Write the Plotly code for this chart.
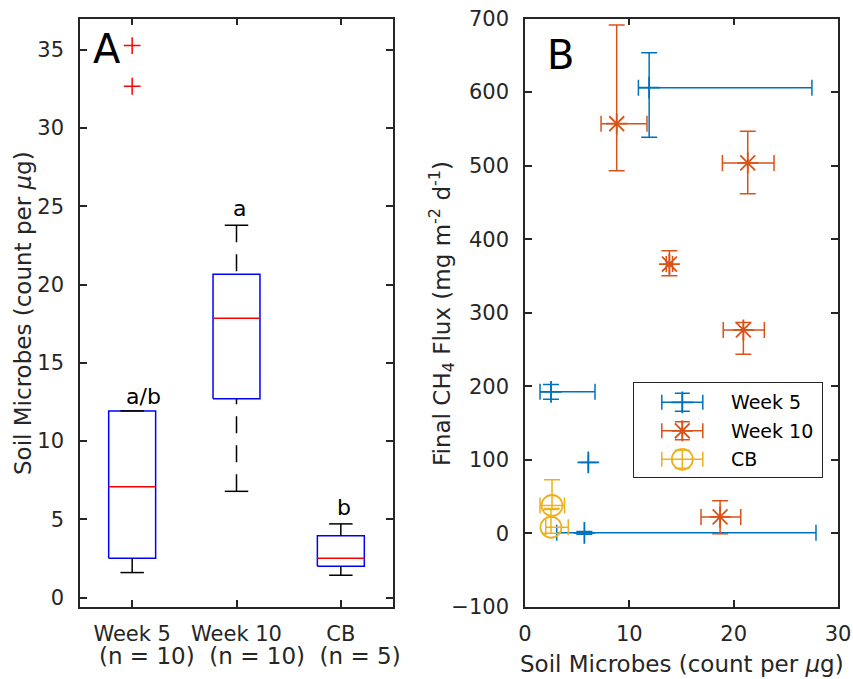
import plotly.graph_objects as go

FONT = "DejaVu Sans, Liberation Sans, Arial, sans-serif"
INK = "#262626"

# ---------------- Panel A: soil microbe counts per treatment ----------------
groups = ["Week 5", "Week 10", "CB"]
group_n = [10, 10, 5]
q1 = [2.51, 12.70, 2.00]
medians = [7.09, 17.85, 2.51]
q3 = [11.93, 20.66, 3.96]
whisker_lo = [1.60, 6.79, 1.43]
whisker_hi = [11.93, 23.79, 4.71]
outlier_group = [1, 1]
outlier_vals = [35.27, 32.67]
sig_labels = ["a/b", "a", "b"]
sig_x = [1.11, 2.03, 3.03]
sig_y = [12.85, 24.85, 5.75]

# ---------------- Panel B: final CH4 flux vs soil microbes ----------------
wk5_x = [11.90, 2.49, 6.07, 5.69]
wk5_y = [606.0, 192.5, 96.6, 0.8]
wk5_xneg = [1.03, 1.05, 0.0, 2.65]
wk5_xpos = [15.60, 4.22, 0.0, 22.20]
wk5_yneg = [67.5, 10.0, 0.0, 2.0]
wk5_ypos = [47.5, 10.0, 0.0, 2.0]

wk10_x = [8.79, 21.35, 13.84, 20.93, 18.70]
wk10_y = [557.0, 503.7, 366.2, 276.7, 22.5]
wk10_xneg = [1.50, 2.43, 0.30, 1.93, 1.83]
wk10_xpos = [2.90, 2.52, 0.30, 2.01, 1.98]
wk10_yneg = [64.0, 42.0, 16.0, 33.0, 23.0]
wk10_ypos = [134.0, 43.0, 18.0, 10.0, 22.0]

cb_x = [2.59, 2.49]
cb_y = [38.0, 8.4]
cb_xneg = [1.15, 0.50]
cb_xpos = [1.20, 1.66]
cb_yneg = [4.0, 8.0]
cb_ypos = [35.0, 24.0]

series_names = ["Week 5", "Week 10", "CB"]
series_colors = ["#0072BD", "#D95319", "#EDB120"]
series_symbols = ["cross-thin", "asterisk", "circle-open"]
series_sizes = [15.5, 17.5, 21]

W, H = 853, 679
BOX_W = 0.45
CAP_W = BOX_W / 2


def px_x(p):
    return p / W


def px_y(p):
    return 1 - p / H


fig = go.Figure()

# --- boxes, whiskers, caps, medians ---
pos = [i + 1 for i in range(len(groups))]
bx, by, wx, wy, cx, cy, mx, my = [], [], [], [], [], [], [], []
for p, a, m, b, lo, hi in zip(pos, q1, medians, q3, whisker_lo, whisker_hi):
    l, r = p - BOX_W / 2, p + BOX_W / 2
    bx += [l, r, r, l, l, None]
    by += [a, a, b, b, a, None]
    wx += [p, p, None, p, p, None]
    wy += [hi, b, None, lo, a, None]
    cx += [p - CAP_W / 2, p + CAP_W / 2, None, p - CAP_W / 2, p + CAP_W / 2, None]
    cy += [hi, hi, None, lo, lo, None]
    mx += [l, r, None]
    my += [m, m, None]

fig.add_trace(go.Scatter(x=bx, y=by, mode="lines", line=dict(color="#0000FF", width=1.5),
                         hoverinfo="skip", showlegend=False))
fig.add_trace(go.Scatter(x=wx, y=wy, mode="lines",
                         line=dict(color="#000000", width=1.5, dash="17px,12px"),
                         hoverinfo="skip", showlegend=False))
fig.add_trace(go.Scatter(x=cx, y=cy, mode="lines", line=dict(color="#000000", width=1.5),
                         hoverinfo="skip", showlegend=False))
fig.add_trace(go.Scatter(x=mx, y=my, mode="lines", line=dict(color="#FF0000", width=1.5),
                         hoverinfo="skip", showlegend=False))
fig.add_trace(go.Scatter(x=outlier_group, y=outlier_vals, mode="markers",
                         marker=dict(symbol="cross-thin", size=12,
                                     line=dict(color="#FF0000", width=1.5)),
                         showlegend=False))

for t, x, y in zip(sig_labels, sig_x, sig_y):
    fig.add_annotation(x=x, y=y, xref="x", yref="y", text=t, showarrow=False,
                       font=dict(family=FONT, size=22, color="#000000"),
                       xanchor="center", yanchor="middle")

# --- panel B scatter with error bars ---
panel_b = [
    (wk5_x, wk5_y, wk5_xneg, wk5_xpos, wk5_yneg, wk5_ypos),
    (wk10_x, wk10_y, wk10_xneg, wk10_xpos, wk10_yneg, wk10_ypos),
    (cb_x, cb_y, cb_xneg, cb_xpos, cb_yneg, cb_ypos),
]
for (xs, ys, xn, xp, yn, yp), name, col, sym, sz in zip(
        panel_b, series_names, series_colors, series_symbols, series_sizes):
    fig.add_trace(go.Scatter(
        x=xs, y=ys, mode="markers", name=name, xaxis="x2", yaxis="y2",
        marker=dict(symbol=sym, size=sz, color=col, line=dict(color=col, width=1.8)),
        error_x=dict(type="data", symmetric=False, array=xp, arrayminus=xn,
                     color=col, thickness=1.5, width=8),
        error_y=dict(type="data", symmetric=False, array=yp, arrayminus=yn,
                     color=col, thickness=1.5, width=8),
        showlegend=False,
    ))

# --- legend glyphs drawn on a small overlay axis ---
LEG_L, LEG_R, LEG_T, LEG_B = 634, 822, 383, 477
leg_rows = [19.3 + 28.5 * i for i in range(len(series_names))]
for row, name, col, sym, sz in zip(leg_rows, series_names, series_colors,
                                   series_symbols, series_sizes):
    fig.add_trace(go.Scatter(
        x=[48.3], y=[row], mode="markers", xaxis="x3", yaxis="y3",
        marker=dict(symbol=sym, size=sz, color=col, line=dict(color=col, width=1.8)),
        error_x=dict(type="constant", value=20.5, color=col, thickness=1.5, width=7.5),
        error_y=dict(type="constant", value=9, color=col, thickness=1.5, width=7.5),
        showlegend=False, hoverinfo="skip",
    ))
    fig.add_annotation(x=95.3, y=row, xref="x3", yref="y3", text=name, showarrow=False,
                       font=dict(family=FONT, size=19, color="#000000"),
                       xanchor="left", yanchor="middle")

axis_style = dict(showline=True, linecolor=INK, linewidth=1.5, mirror="ticks",
                  ticks="inside", ticklen=7, tickwidth=1.5, tickcolor=INK,
                  showgrid=False, zeroline=False, automargin=False,
                  tickfont=dict(family=FONT, size=21, color=INK))
overlay_style = dict(showline=True, mirror=True, linecolor=INK, linewidth=1.2,
                     showticklabels=False, ticks="", showgrid=False, zeroline=False,
                     fixedrange=True, automargin=False)

ydom = [px_y(607), px_y(18.5)]
fig.update_layout(
    width=W, height=H,
    margin=dict(l=0, r=0, t=0, b=0, pad=0),
    paper_bgcolor="white", plot_bgcolor="white",
    showlegend=False,
    xaxis=dict(domain=[px_x(80), px_x(393)], range=[0.5, 3.5],
               tickvals=pos, ticktext=groups, ticklabelstandoff=7, **axis_style),
    yaxis=dict(domain=ydom, range=[-0.6, 37.0], tickvals=[0, 5, 10, 15, 20, 25, 30, 35],
               ticklabelstandoff=10, **axis_style),
    xaxis2=dict(domain=[px_x(525), px_x(838)], range=[0, 30], tickvals=[0, 10, 20, 30],
                anchor="y2", ticklabelstandoff=7, **axis_style),
    yaxis2=dict(domain=ydom, range=[-100, 700], dtick=100, anchor="x2",
                ticklabelstandoff=10, **axis_style),
    xaxis3=dict(domain=[px_x(LEG_L), px_x(LEG_R)], range=[0, LEG_R - LEG_L], anchor="y3",
                **overlay_style),
    yaxis3=dict(domain=[px_y(LEG_B), px_y(LEG_T)], range=[LEG_B - LEG_T, 0], anchor="x3",
                **overlay_style),
)

label_font = dict(family=FONT, size=23, color=INK)
n_text = "\u00a0\u00a0".join(f"(n = {n})" for n in group_n)
fig.add_annotation(x=px_x(250), y=px_y(656), xref="paper", yref="paper", text=n_text,
                   showarrow=False, font=label_font, xanchor="center", yanchor="middle")
fig.add_annotation(x=px_x(23), y=px_y(313), xref="paper", yref="paper",
                   text="Soil Microbes (count per <i>\u03bc</i>g)", textangle=-90,
                   showarrow=False, font=label_font, xanchor="center", yanchor="middle")
fig.add_annotation(x=px_x(682), y=px_y(664), xref="paper", yref="paper",
                   text="Soil Microbes (count per <i>\u03bc</i>g)",
                   showarrow=False, font=label_font, xanchor="center", yanchor="middle")
fig.add_annotation(x=px_x(441), y=px_y(313), xref="paper", yref="paper",
                   text="Final CH<sub>4</sub> Flux (mg m<sup>-2</sup> d<sup>-1</sup>)",
                   textangle=-90, showarrow=False, font=label_font,
                   xanchor="center", yanchor="middle")

panel_font = dict(family=FONT, size=40, color="#000000")
fig.add_annotation(x=px_x(107), y=px_y(49), xref="paper", yref="paper", text="A",
                   showarrow=False, font=panel_font, xanchor="center", yanchor="middle")
fig.add_annotation(x=px_x(560), y=px_y(55), xref="paper", yref="paper", text="B",
                   showarrow=False, font=panel_font, xanchor="center", yanchor="middle")

fig.write_html("out.html")
